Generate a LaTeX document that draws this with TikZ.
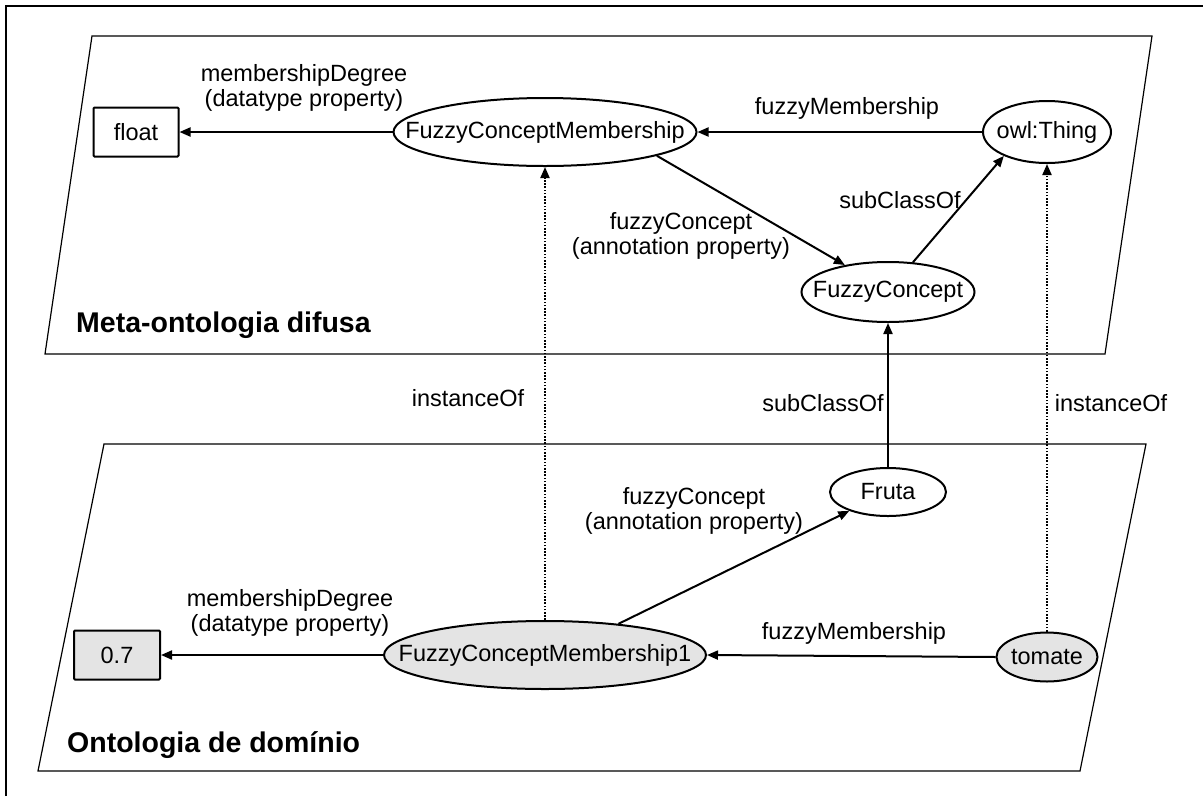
\documentclass[tikz,border=0pt]{standalone}
\usepackage{fontspec}
\setmainfont{Liberation Sans}
\usetikzlibrary{shapes.geometric,arrows.meta}
\definecolor{nodegray}{RGB}{228,228,228}
\newcommand\lbfont{\fontsize{23.5}{25}\selectfont}
\newcommand\ttlfont{\fontsize{28.5}{30}\selectfont\bfseries}
\newcommand\nt[1]{\makebox[0pt]{#1}}
\tikzset{
  cls/.style={ellipse, draw, line width=2pt, fill=white, inner sep=0pt, font=\lbfont},
  ind/.style={cls, fill=nodegray},
  valbox/.style={rectangle, draw, line width=2pt, fill=white, rounded corners=1pt,
    minimum width=85pt, minimum height=49pt, inner sep=0pt, font=\lbfont},
  rel/.style={line width=2pt, -{Triangle[length=11pt,width=9pt]}},
  inst/.style={rel, dash pattern=on 1.6pt off 1.6pt},
  lbl/.style={font=\lbfont, align=center, inner sep=0pt},
  ttl/.style={font=\ttlfont, inner sep=0pt, anchor=west},
  plane/.style={draw, line width=1.2pt, fill=white},
}
\begin{document}
\begin{tikzpicture}[x=1pt,y=-1pt]
\useasboundingbox (0,0) rectangle (1203,796);
\fill[white] (0,0) rectangle (1203,796);
% outer frame
\draw[line width=2pt] (6,796) -- (6,6) -- (1203,6);
% planes
\path[plane] (92,36) -- (1152,36) -- (1105,354) -- (45,354) -- cycle;
\path[plane] (104,444) -- (1146,444) -- (1080,771) -- (38,771) -- cycle;
% titles
\node[ttl] (t1) at (76,325) {Meta-ontologia difusa};
\node[ttl] (t2) at (67,745) {Ontologia de domínio};
% nodes
\node[valbox] (float) at (136,132) {float};
\node[cls, minimum width=303pt, minimum height=68pt] (fcm) at (545,132) {\nt{FuzzyConceptMembership}};
\node[cls, minimum width=128pt, minimum height=62pt] (owl) at (1047,132) {\nt{owl:Thing}};
\node[cls, minimum width=173pt, minimum height=60pt] (fc) at (888,292) {\nt{FuzzyConcept}};
\node[cls, minimum width=116pt, minimum height=48pt] (fruta) at (888,492) {\nt{Fruta}};
\node[ind, minimum width=322pt, minimum height=68pt] (fcm1) at (545,655) {\nt{FuzzyConceptMembership1}};
\node[ind, minimum width=101pt, minimum height=49pt] (tomate) at (1047,657) {\nt{tomate}};
\node[valbox, fill=nodegray, minimum width=86pt] (v07) at (117,655) {0.7};
% connectors
\draw[rel] (fcm.west) -- (float.east);
\draw[rel] (owl.west) -- (fcm.east);
\draw[rel] (fcm.-12.5) -- (fc.148);
\draw[rel] (fc.50) -- (owl.209.5);
\draw[rel] (fruta.north) -- (fc.south);
\draw[inst] (fcm1.north) -- (fcm.south);
\draw[inst] (tomate.north) -- (owl.south);
\draw[rel] (fcm1.23.6) -- (fruta.206.6);
\draw[rel] (tomate.west) -- (fcm1.east);
\draw[rel] (fcm1.west) -- (v07.east);
% labels
\node[lbl] (l1) at (304,88) {membershipDegree\\(datatype property)};
\node[lbl] (l2) at (847,108) {fuzzyMembership};
\node[lbl] (l3) at (681,236) {fuzzyConcept\\(annotation property)};
\node[lbl] (l4) at (900,200) {subClassOf};
\node[lbl] (l5) at (468,398) {instanceOf};
\node[lbl] (l6) at (823,403) {subClassOf};
\node[lbl] (l7) at (1111,403) {instanceOf};
\node[lbl] (l8) at (694,511) {fuzzyConcept\\(annotation property)};
\node[lbl] (l9) at (854,633) {fuzzyMembership};
\node[lbl] (l10) at (290,613) {membershipDegree\\(datatype property)};
\end{tikzpicture}
\end{document}
